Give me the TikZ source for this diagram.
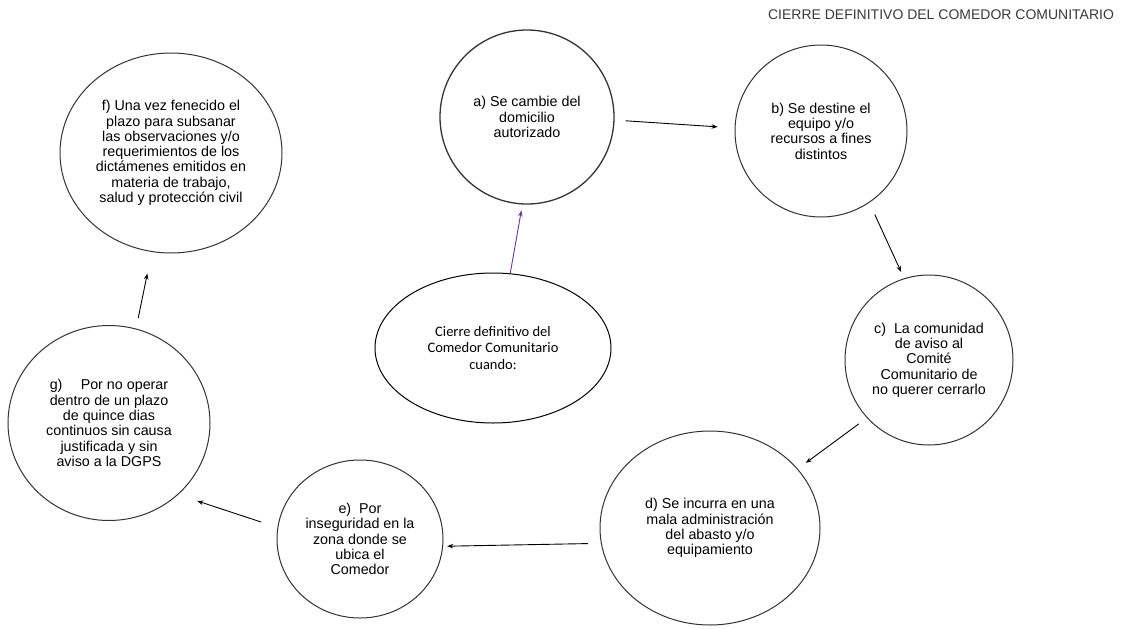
\documentclass[tikz,border=0pt]{standalone}
\usepackage{fontspec}
\setmainfont{Liberation Sans}
\newfontfamily\calibrifont{Carlito}
\definecolor{rimgray}{HTML}{D0D0D0}
\definecolor{edgegray}{HTML}{333333}
\definecolor{titlegray}{HTML}{3A3A3A}
\definecolor{linkpurple}{HTML}{7030A0}
\usetikzlibrary{arrows.meta, positioning, shapes.geometric}
\pgfdeclareradialshading{bubbleshade}{\pgfpoint{0bp}{0bp}}{%
  color(0bp)=(white); color(36bp)=(white); color(50bp)=(rimgray)}

\begin{document}
\begin{tikzpicture}[x=1pt, y=-1pt, >={Stealth[length=6pt, width=4.5pt]},
  bubble/.style={ellipse, draw=edgegray, line width=1pt, inner sep=0pt,
    shading=bubbleshade, align=center,
    font=\fontsize{14.3}{15.3}\selectfont},
  link/.style={->, line width=0.9pt, black}]
  \fill[white] (0,0) rectangle (1125,629);
  \useasboundingbox (0,0) rectangle (1125,629);

  \node[font=\fontsize{14}{16}\selectfont, titlegray] (title) at (941,15)
    {CIERRE DEFINITIVO DEL COMEDOR COMUNITARIO};

  % the seven causes and the centre
  \node[bubble, minimum width=174, minimum height=174, line width=1.3pt] (a) at (527,117)
    {a) Se cambie del\\domicilio\\autorizado};
  \node[bubble, minimum width=172, minimum height=172] (b) at (821,131)
    {b) Se destine el\\equipo y/o\\recursos a fines\\distintos};
  \node[bubble, minimum width=168, minimum height=170] (c) at (929,360)
    {c)\ \ La comunidad\\de aviso al\\Comité\\Comunitario de\\no querer cerrarlo};
  \node[bubble, minimum width=220, minimum height=194] (d) at (710,528)
    {d) Se incurra en una\\mala administración\\del abasto y/o\\equipamiento};
  \node[bubble, minimum width=166, minimum height=158] (e) at (360,539)
    {e)\ \ Por\\inseguridad en la\\zona donde se\\ubica el\\Comedor};
  \node[bubble, minimum width=222, minimum height=200] (f) at (171,153)
    {f) Una vez fenecido el\\plazo para subsanar\\las observaciones y/o\\requerimientos de los\\dictámenes emitidos en\\materia de trabajo,\\salud y protección civil};
  \node[bubble, minimum width=202, minimum height=195] (g) at (109,423)
    {g)\quad\ Por no operar\\dentro de un plazo\\de quince dias\\continuos sin causa\\justificada y sin\\aviso a la DGPS};
  \node[bubble, minimum width=236, minimum height=150, draw=black,
    font=\calibrifont\fontsize{14.5}{16.5}\selectfont] (centre) at (493,348)
    {Cierre definitivo del\\Comedor Comunitario\\cuando:};

  % connectors
  \draw[link, shorten <=11pt, shorten >=17pt] (a.-2) -- (b.178);
  \draw[link, shorten <=13pt, shorten >=7pt] (b.-56) -- (c.107);
  \draw[link, shorten <=10pt, shorten >=10pt] (c.223) -- (d.34);
  \draw[link, shorten <=13pt, shorten >=4pt] (d.-172) -- (e.-5);
  \draw[link, shorten <=17pt, shorten >=20pt] (e.172) -- (g.-46);
  \draw[link, shorten <=11pt, shorten >=22pt] (g.74) -- (f.-101);
  \draw[link, linkpurple, shorten >=6pt] (centre.77) -- (a.-93);
\end{tikzpicture}
\end{document}
